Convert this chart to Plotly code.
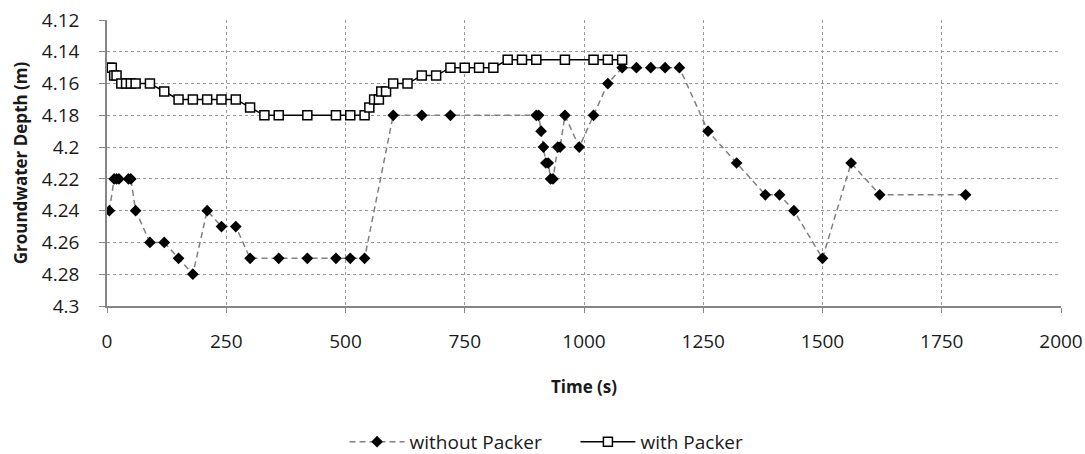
import plotly.graph_objects as go

# Groundwater depth readings, without packer
time_without = [5, 15, 20, 25, 45, 50, 60, 90, 120, 150, 180, 210, 240, 270, 300,
                360, 420, 480, 510, 540, 600, 660, 720, 900, 905, 910, 915, 920,
                925, 930, 935, 945, 950, 960, 990, 1020, 1050, 1080, 1110, 1140,
                1170, 1200, 1260, 1320, 1380, 1410, 1440, 1500, 1560, 1620, 1800]
depth_without = [4.24, 4.22, 4.22, 4.22, 4.22, 4.22, 4.24, 4.26, 4.26, 4.27, 4.28,
                 4.24, 4.25, 4.25, 4.27, 4.27, 4.27, 4.27, 4.27, 4.27, 4.18, 4.18,
                 4.18, 4.18, 4.18, 4.19, 4.20, 4.21, 4.21, 4.22, 4.22, 4.20, 4.20,
                 4.18, 4.20, 4.18, 4.16, 4.15, 4.15, 4.15, 4.15, 4.15, 4.19, 4.21,
                 4.23, 4.23, 4.24, 4.27, 4.21, 4.23, 4.23]

# Groundwater depth readings, with packer
time_with = [5, 10, 15, 20, 30, 40, 50, 60, 90, 120, 150, 180, 210, 240, 270, 300,
             330, 360, 420, 480, 510, 540, 550, 560, 570, 575, 585, 600, 630, 660,
             690, 720, 750, 780, 810, 840, 870, 900, 960, 1020, 1050, 1080]
depth_with = [4.15, 4.15, 4.155, 4.155, 4.16, 4.16, 4.16, 4.16, 4.16, 4.165, 4.17,
              4.17, 4.17, 4.17, 4.17, 4.175, 4.18, 4.18, 4.18, 4.18, 4.18, 4.18,
              4.175, 4.17, 4.17, 4.165, 4.165, 4.16, 4.16, 4.155, 4.155, 4.15, 4.15,
              4.15, 4.15, 4.145, 4.145, 4.145, 4.145, 4.145, 4.145, 4.145]

x_ticks = [0, 250, 500, 750, 1000, 1250, 1500, 1750, 2000]
y_ticks = [4.12, 4.14, 4.16, 4.18, 4.20, 4.22, 4.24, 4.26, 4.28, 4.30]
y_tick_text = ["4.12", "4.14", "4.16", "4.18", "4.2", "4.22", "4.24", "4.26", "4.28", "4.3"]

FONT = "Open Sans"
AXIS_GREY = "#868686"
GRID_GREY = "#9a9a9a"

fig = go.Figure()
fig.add_trace(go.Scatter(
    x=time_without, y=depth_without, name="without Packer", mode="lines+markers",
    line=dict(color="#808080", width=1.5, dash="6px,4px"),
    marker=dict(symbol="diamond", size=9, color="black", line=dict(width=0)),
    legend="legend",
))
fig.add_trace(go.Scatter(
    x=time_with, y=depth_with, name="with Packer", mode="lines+markers",
    line=dict(color="black", width=1.5),
    marker=dict(symbol="square", size=9, color="white", line=dict(color="black", width=1.5)),
    legend="legend2",
))

legend_common = dict(orientation="h", y=-0.475, yanchor="middle", xanchor="left",
                     font=dict(size=19), itemwidth=55, bgcolor="rgba(0,0,0,0)")

fig.update_layout(
    width=1085, height=454,
    margin=dict(l=107, r=24, t=20, b=148, autoexpand=False),
    paper_bgcolor="white", plot_bgcolor="white",
    font=dict(family=FONT, size=19, color="#1a1a1a"),
    legend=dict(x=0.249, **legend_common),
    legend2=dict(x=0.491, **legend_common),
    showlegend=True,
)
fig.update_xaxes(
    range=[0, 2000], tickvals=x_ticks, ticks="outside", ticklen=5, tickcolor=AXIS_GREY,
    showline=True, linecolor=AXIS_GREY, linewidth=1.5,
    showgrid=True, gridcolor=GRID_GREY, griddash="dot", gridwidth=1,
    zeroline=False, ticklabelstandoff=12, tickfont=dict(size=19),
    title=dict(text="<b>Time (s)</b>", font=dict(size=17), standoff=29),
)
fig.update_yaxes(
    range=[4.30, 4.12], tickvals=y_ticks, ticktext=y_tick_text,
    ticks="outside", ticklen=6, tickcolor=AXIS_GREY,
    showline=True, linecolor=AXIS_GREY, linewidth=1.5,
    showgrid=True, gridcolor=GRID_GREY, griddash="dot", gridwidth=1,
    zeroline=False, ticklabelstandoff=16, tickfont=dict(size=19),
    title=dict(text="<b>Groundwater Depth (m)</b>", font=dict(size=17), standoff=10),
)

fig.write_html("out.html")
